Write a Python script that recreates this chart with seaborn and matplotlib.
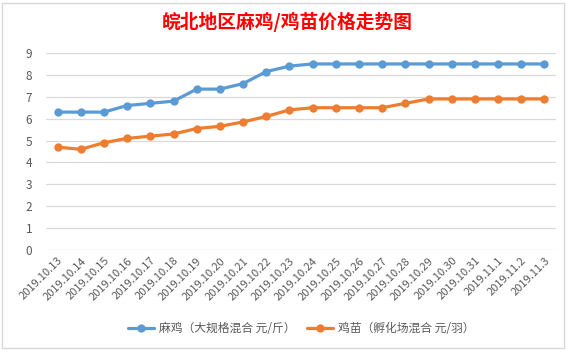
import matplotlib
matplotlib.use("Agg")
import matplotlib.pyplot as plt
from matplotlib.patches import Rectangle
import seaborn as sns
import pandas as pd
import numpy as np

dates = ["2019.10.13", "2019.10.14", "2019.10.15", "2019.10.16", "2019.10.17",
         "2019.10.18", "2019.10.19", "2019.10.20", "2019.10.21", "2019.10.22",
         "2019.10.23", "2019.10.24", "2019.10.25", "2019.10.26", "2019.10.27",
         "2019.10.28", "2019.10.29", "2019.10.30", "2019.10.31", "2019.11.1",
         "2019.11.2", "2019.11.3"]
maji = [6.3, 6.3, 6.3, 6.6, 6.7, 6.8, 7.35, 7.35, 7.6, 8.15, 8.4,
        8.5, 8.5, 8.5, 8.5, 8.5, 8.5, 8.5, 8.5, 8.5, 8.5, 8.5]
jimiao = [4.7, 4.6, 4.9, 5.1, 5.2, 5.3, 5.55, 5.65, 5.85, 6.1, 6.4,
          6.5, 6.5, 6.5, 6.5, 6.7, 6.9, 6.9, 6.9, 6.9, 6.9, 6.9]
series_names = ["麻鸡（大规格混合 元/斤）", "鸡苗（孵化场混合 元/羽）"]
colors = ["#5B9BD5", "#ED7D31"]
title = "皖北地区麻鸡/鸡苗价格走势图"

sns.set_theme(style="white")
plt.rcParams['font.family'] = ['Noto Sans CJK SC', 'DejaVu Sans']

idx = np.arange(len(dates))
df = pd.DataFrame({
    "pos": np.concatenate([idx, idx]),
    "value": maji + jimiao,
    "series": [series_names[0]] * len(dates) + [series_names[1]] * len(dates),
})

fig = plt.figure(figsize=(5.74, 3.52), dpi=100)
fig.patch.set_facecolor("white")
ax = fig.add_axes([46 / 574, 1 - 250 / 352, (556 - 46) / 574, (250 - 53) / 352])

sns.lineplot(data=df, x="pos", y="value", hue="series", palette=colors,
             marker="o", markersize=6, markeredgewidth=0, linewidth=2.3,
             ax=ax, legend=True)

ax.set_xlim(-0.5, len(dates) - 0.5)
ax.set_ylim(0, 9)
ax.set_yticks(range(0, 10))
ax.set_xticks(idx)
ax.set_xticklabels(dates, rotation=45, ha="right", va="top",
                   rotation_mode="anchor", fontsize=8, color="#595959")
ax.tick_params(axis="y", labelsize=8.5, colors="#595959", length=0, pad=10)
ax.tick_params(axis="x", length=0, pad=4)
ax.set_xlabel("")
ax.set_ylabel("")
ax.grid(axis="y", color="#D9D9D9", linewidth=0.9)
ax.set_axisbelow(True)
for s in ax.spines.values():
    s.set_visible(False)

handles, labels = ax.get_legend_handles_labels()
ax.legend(handles, labels, loc="center", bbox_to_anchor=(0.5, -0.40),
          ncol=2, frameon=False, fontsize=8.5, handlelength=2.2,
          handletextpad=0.4, columnspacing=1.0, labelcolor="#595959")

fig.text(0.5, 1 - 22 / 352, title, ha="center", va="center", color="red",
         fontsize=13.5, fontweight="bold")

fig.patches.append(Rectangle((2 / 574, 1 - 348 / 352), (564 - 2) / 574, (348 - 3) / 352,
                             transform=fig.transFigure, fill=False,
                             edgecolor="#D9D9D9", linewidth=1))

fig.savefig("out.png", dpi=100)
